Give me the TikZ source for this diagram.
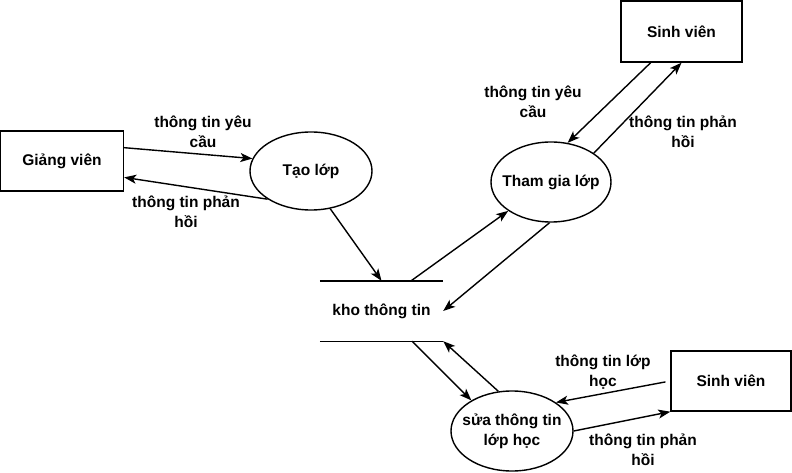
\documentclass[tikz,border=0pt]{standalone}
\usepackage{fontspec}
\setmainfont{Liberation Sans}
\usetikzlibrary{shapes.geometric,arrows.meta,calc}
\tikzset{
  txt/.style={font=\fontsize{15.5}{20}\selectfont\bfseries, align=center, inner sep=0pt},
  entity/.style={txt, draw, line width=1.4pt, minimum width=121pt, minimum height=61pt},
  proc/.style={draw, ellipse, line width=1.4pt, inner sep=0pt},
  store/.style={txt, minimum width=123pt, minimum height=60pt},
  flow/.style={line width=1.4pt, -{Stealth[length=12pt,width=9pt,inset=3pt]}},
  lbl/.style={txt}
}
\begin{document}
\begin{tikzpicture}[x=1pt,y=-1pt]
\useasboundingbox (0,0) rectangle (792,473);
% entities
\node[entity, minimum width=123pt, minimum height=60pt] (gv) at (62,161) {Giảng viên};
\node[entity] (sv1) at (681.5,31.5) {Sinh viên};
\node[entity, minimum width=120pt, minimum height=60pt] (sv2) at (731,381) {Sinh viên};
% processes
\node[proc, minimum width=122pt, minimum height=78pt, label={[txt]center:Tạo lớp}] (tao) at (311,171) {};
\node[proc, minimum width=120pt, minimum height=80pt, label={[txt]center:Tham gia lớp}] (tg) at (551,182) {};
\node[proc, minimum width=122pt, minimum height=80pt, label={[txt]center:{sửa thông tin\\lớp học}}] (sua) at (512,431) {};
% store
\node[store] (kho) at (381.5,311) {kho thông tin};
\draw[line width=1.4pt] (kho.north west) -- (kho.north east);
\draw[line width=1.4pt] (kho.south west) -- (kho.south east);
% flows
\draw[flow] ($(gv.north east)!0.283!(gv.south east)$) -- (tao.168);
\draw[flow] (tao.213) -- ($(gv.north east)!0.767!(gv.south east)$);
\draw[flow] (tao.297) -- (kho.north);
\draw[flow] ($(kho.north west)!0.74!(kho.north east)$) -- (tg.214);
\draw[flow] (tg.268) -- (kho.east);
\draw[flow] ($(sv1.south west)!0.248!(sv1.south east)$) -- (tg.67);
\draw[flow] (tg.34) -- (sv1.south);
\draw[flow] ($(kho.south west)!0.748!(kho.south east)$) -- (sua.143);
\draw[flow] (sua.109) -- (kho.south east);
\draw[flow, shorten <=5pt] (sv2.west) -- (sua.33);
\draw[flow] (sua.east) -- (sv2.south west);
% labels
\node[lbl] (l1) at (203,132) {thông tin yêu\\cầu};
\node[lbl] (l2) at (186,212) {thông tin phản\\hồi};
\node[lbl] (l3) at (533,102) {thông tin yêu\\cầu};
\node[lbl] (l4) at (683,132) {thông tin phản\\hồi};
\node[lbl] (l5) at (603,372) {thông tin lớp\\học};
\node[lbl] (l6) at (643,450) {thông tin phản\\hồi};
\end{tikzpicture}
\end{document}
